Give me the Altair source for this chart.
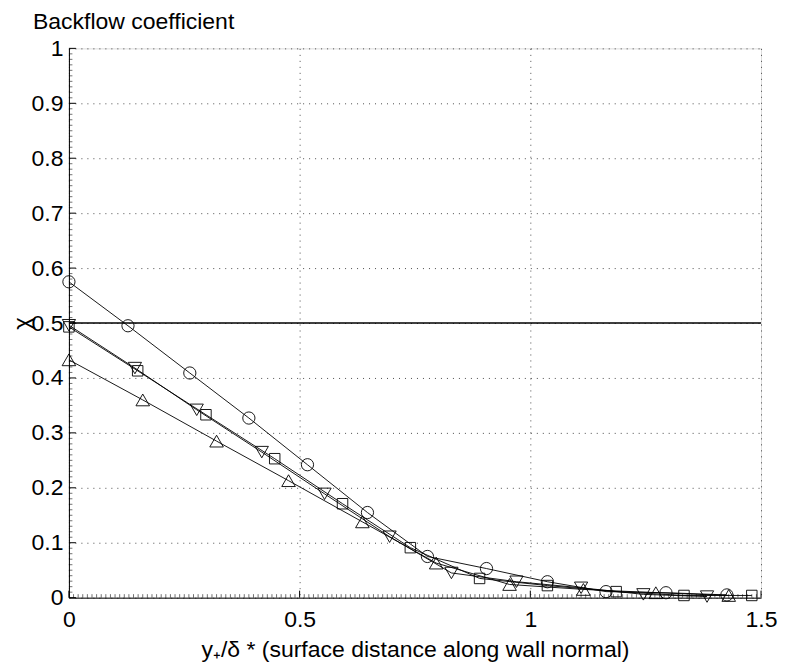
import altair as alt
import pandas as pd

# ---- data ----
series_names = ["circle", "square", "down", "up"]

circle_x = [0.0, 0.128, 0.262, 0.390, 0.517, 0.647, 0.777, 0.905, 1.037, 1.164, 1.294, 1.426]
circle_y = [0.575, 0.495, 0.409, 0.327, 0.242, 0.155, 0.075, 0.053, 0.029, 0.011, 0.009, 0.005]

square_x = [0.0, 0.149, 0.297, 0.446, 0.593, 0.740, 0.890, 1.037, 1.186, 1.333, 1.480]
square_y = [0.493, 0.413, 0.333, 0.253, 0.171, 0.091, 0.035, 0.022, 0.011, 0.004, 0.004]

down_x = [0.0, 0.143, 0.277, 0.418, 0.554, 0.695, 0.829, 0.970, 1.110, 1.245, 1.383]
down_y = [0.496, 0.418, 0.342, 0.265, 0.189, 0.111, 0.045, 0.029, 0.018, 0.006, 0.002]

up_x = [0.0, 0.160, 0.320, 0.476, 0.636, 0.796, 0.955, 1.115, 1.272, 1.430]
up_y = [0.433, 0.360, 0.285, 0.213, 0.138, 0.063, 0.024, 0.015, 0.009, 0.004]

threshold = [0.5]

x_ticks = [0, 0.5, 1, 1.5]
y_ticks = [round(i * 0.1, 1) for i in range(11)]
x_minor = [round(i * 0.01, 2) for i in range(151) if i % 50 != 0]
y_minor = [round(i * 0.01, 2) for i in range(101) if i % 10 != 0]

title_text = "Backflow coefficient"
x_title = "y\u208a/\u03b4 * (surface distance along wall normal)"
y_title = "\u03c7"

# ---- build tables ----
rows = []
for name, xs, ys in [("circle", circle_x, circle_y), ("square", square_x, square_y),
                     ("down", down_x, down_y), ("up", up_x, up_y)]:
    for a, b in zip(xs, ys):
        rows.append({"s": name, "x": a, "y": b})
df = pd.DataFrame(rows)

W, H = 693, 550
FONT = "Liberation Sans"

xscale = alt.Scale(domain=[0, 1.5], nice=False, zero=False)
yscale = alt.Scale(domain=[0, 1], nice=False, zero=False)

x_axis = alt.Axis(values=x_ticks, format="~g", title=x_title, ticks=False, tickSize=0,
                  labelPadding=11, labelFontSize=23, labelFont=FONT, labelColor="black",
                  titleFont=FONT, titleFontSize=23, titleFontWeight="normal", titleColor="black",
                  titleY=52, titleBaseline="middle",
                  domainColor="black", domainWidth=1,
                  grid=True, gridDash=[1, 5], gridColor="black", gridOpacity=0.7, gridWidth=1,
                  labelFlush=False, labelOverlap=False)
y_axis = alt.Axis(values=y_ticks, format="~g", title=y_title, ticks=False, tickSize=0,
                  labelPadding=6, labelFontSize=23, labelFont=FONT, labelColor="black",
                  titleFont=FONT, titleFontSize=24, titleFontWeight="normal", titleColor="black",
                  titleAngle=270, titleX=-46, titleY=H / 2, titleAlign="center", titleBaseline="middle",
                  domainColor="black", domainWidth=1,
                  grid=True, gridDash=[1, 5], gridColor="black", gridOpacity=0.7, gridWidth=1,
                  labelFlush=False, labelOverlap=False)


def X():
    return alt.X("x:Q", scale=xscale, axis=x_axis)


def Y():
    return alt.Y("y:Q", scale=yscale, axis=y_axis)


lines = alt.Chart(df).mark_line(color="black", strokeWidth=0.9).encode(
    x=X(), y=Y(), detail="s:N",
)

marker_style = {"circle": ("circle", 150), "square": ("square", 110),
                "down": ("triangle-down", 175), "up": ("triangle-up", 185)}
point_layers = []
for name in series_names:
    shp, sz = marker_style[name]
    point_layers.append(
        alt.Chart(df).transform_filter(alt.datum.s == name).mark_point(
            filled=False, color="black", strokeWidth=0.9, opacity=1, shape=shp, size=sz
        ).encode(x=X(), y=Y())
    )

hline = alt.Chart(pd.DataFrame({"y": threshold})).mark_rule(color="black", strokeWidth=1.4).encode(
    y=Y(),
)

# inward tick marks
ymaj = alt.Chart(pd.DataFrame({"y": y_ticks})).mark_rule(color="black", strokeWidth=1).encode(
    y=Y(), x=alt.value(0), x2=alt.value(7))
ymin = alt.Chart(pd.DataFrame({"y": y_minor})).mark_rule(color="black", strokeWidth=0.7, opacity=0.8).encode(
    y=Y(), x=alt.value(0), x2=alt.value(3.5))
xmaj = alt.Chart(pd.DataFrame({"x": x_ticks})).mark_rule(color="black", strokeWidth=1).encode(
    x=X(), y=alt.value(H), y2=alt.value(H - 7))
xmin = alt.Chart(pd.DataFrame({"x": x_minor})).mark_rule(color="black", strokeWidth=0.7, opacity=0.8).encode(
    x=X(), y=alt.value(H), y2=alt.value(H - 3.5))

title = alt.Chart(pd.DataFrame({"t": [title_text]})).mark_text(
    align="left", baseline="middle", font=FONT, fontSize=23, color="black").encode(
    text="t:N", x=alt.value(-36), y=alt.value(-26))

chart = alt.layer(lines, hline, ymin, ymaj, xmin, xmaj, *point_layers, title).properties(
    width=W, height=H,
    autosize=alt.AutoSizeParams(type="none"),
    padding={"left": 61, "top": 40, "right": 20, "bottom": 65},
).configure_view(strokeWidth=0, strokeOpacity=0).configure(background="white")

chart.save("out.html", embed_options={"renderer": "svg", "actions": False})
